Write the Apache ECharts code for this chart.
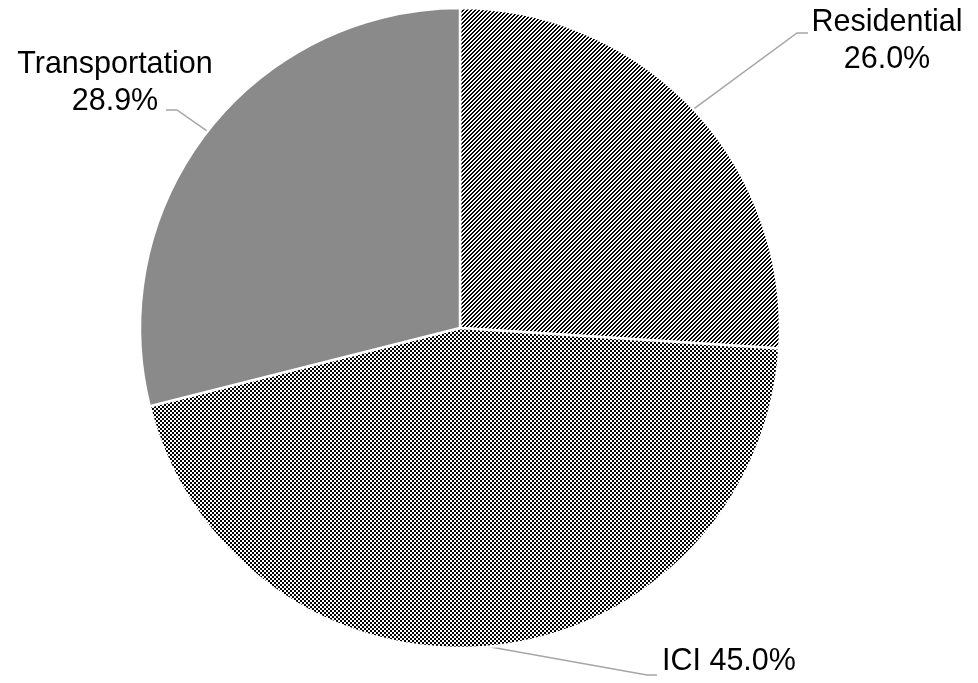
<!DOCTYPE html>
<html>
<head>
<meta charset="utf-8">
<title>Emissions by sector</title>
<script src="https://cdn.jsdelivr.net/npm/echarts@6/dist/echarts.min.js"></script>
<style>
  html, body { margin: 0; padding: 0; background: #fff; }
  #chart { width: 978px; height: 683px; }
</style>
</head>
<body>
<div id="chart"></div>
<script>
// Sector shares (percent)
const categories = ['Residential', 'ICI', 'Transportation'];
const shares = [26.0, 45.0, 28.9];

// Fill patterns drawn on tiny canvases and tiled by the renderer
function makePattern(size, isBlack) {
  const c = document.createElement('canvas');
  c.width = size; c.height = size;
  const ctx = c.getContext('2d');
  ctx.fillStyle = '#fff';
  ctx.fillRect(0, 0, size, size);
  ctx.fillStyle = '#000';
  for (let y = 0; y < size; y++) {
    for (let x = 0; x < size; x++) {
      if (isBlack(x, y)) ctx.fillRect(x, y, 1, 1);
    }
  }
  return { image: c, repeat: 'repeat' };
}
const diagonalStripes = makePattern(4, (x, y) => (x + y) % 4 < 2);
const checkerBoard = makePattern(4, (x, y) => (Math.floor(x / 2) + Math.floor(y / 2)) % 2 === 0);
const fills = [diagonalStripes, checkerBoard, '#8A8A8A'];

// Pie geometry
const CX = 460, CY = 328, R = 320;

// Label placement: anchor of the text block and the two bend points of its leader line
const labelPlacement = [
  { x: 887, y: 41, align: 'center', bend: [[797, 33], [808, 33]] },
  { x: 662, y: 662, align: 'left', bend: [[647, 675], [657, 675]] },
  { x: 115, y: 83, align: 'center', bend: [[177, 110], [166, 110]] }
];

const total = shares.reduce((a, b) => a + b, 0);
function edgePoint(i) {
  let before = 0;
  for (let k = 0; k < i; k++) before += shares[k];
  const midDeg = 90 - (before + shares[i] / 2) / total * 360;
  const rad = midDeg * Math.PI / 180;
  return [CX + R * Math.cos(rad), CY - R * Math.sin(rad)];
}

const chart = echarts.init(document.getElementById('chart'), null, { renderer: 'canvas' });

chart.setOption({
  animation: false,
  backgroundColor: '#fff',
  series: [{
    type: 'pie',
    center: [CX, CY],
    radius: R,
    startAngle: 90,
    clockwise: true,
    avoidLabelOverlap: false,
    emphasis: { disabled: true },
    data: categories.map((name, i) => ({
      name: name,
      value: shares[i],
      itemStyle: { color: fills[i] }
    })),
    itemStyle: { borderColor: '#fff', borderWidth: 2.5 },
    label: {
      show: true,
      position: 'outside',
      fontFamily: 'Liberation Sans, Arial, sans-serif',
      fontSize: 30.5,
      lineHeight: 37,
      color: '#000',
      formatter: p => p.name === 'ICI'
        ? p.name + ' ' + p.value.toFixed(1) + '%'
        : p.name + '\n' + p.value.toFixed(1) + '%'
    },
    labelLine: {
      show: true,
      length: 20,
      length2: 10,
      lineStyle: { color: '#A6A6A6', width: 1.5 }
    },
    labelLayout: function (params) {
      const i = params.dataIndex;
      const pl = labelPlacement[i];
      const start = edgePoint(i);
      return {
        x: pl.x,
        y: pl.y,
        align: pl.align,
        verticalAlign: 'middle',
        labelLinePoints: [start, pl.bend[0], pl.bend[1]]
      };
    }
  }]
});
</script>
</body>
</html>
